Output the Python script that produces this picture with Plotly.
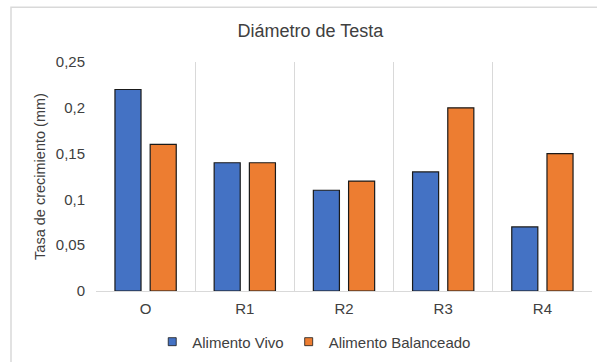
import plotly.graph_objects as go

categorias = ["O", "R1", "R2", "R3", "R4"]
alimento_vivo = [0.22, 0.14, 0.11, 0.13, 0.07]
alimento_balanceado = [0.16, 0.14, 0.12, 0.20, 0.15]
ticks_y = [0, 0.05, 0.1, 0.15, 0.2, 0.25]
etiquetas_y = ["0", "0,05", "0,1", "0,15", "0,2", "0,25"]

AZUL = "#4472C4"
NARANJA = "#ED7D31"
TEXTO = "#404040"
FUENTE = "Liberation Sans, Arial, sans-serif"

fig = go.Figure()
for nombre, valores, color in [("Alimento Vivo", alimento_vivo, AZUL),
                               ("Alimento Balanceado", alimento_balanceado, NARANJA)]:
    fig.add_trace(go.Bar(
        x=categorias, y=valores, name=nombre, showlegend=False,
        marker=dict(color=color, line=dict(color="#1a1a1a", width=1.2)),
    ))
    # legend entry drawn as a small square
    fig.add_trace(go.Scatter(
        x=[None], y=[None], mode="markers", name=nombre,
        marker=dict(symbol="square", size=8, color=color,
                    line=dict(color="#1a1a1a", width=0.8)),
    ))

fig.update_layout(
    width=597, height=362,
    margin=dict(l=96, r=5, t=62, b=70),
    paper_bgcolor="white", plot_bgcolor="white",
    font=dict(family=FUENTE, color=TEXTO, size=15),
    title=dict(text="Diámetro de Testa", x=0.52, xanchor="center",
               y=1 - 31 / 362, yanchor="middle",
               font=dict(size=18, color=TEXTO)),
    barmode="group", bargap=0.29, bargroupgap=0.26,
    legend=dict(orientation="h", x=0.44, xanchor="center",
                y=-0.217, yanchor="middle", itemwidth=30,
                font=dict(size=15, color=TEXTO), traceorder="normal"),
    xaxis=dict(
        type="category", range=[-0.5, 4.5], tickson="boundaries",
        showgrid=True, gridcolor="#d9d9d9", gridwidth=1,
        showline=True, linecolor="#d9d9d9", linewidth=1,
        ticks="", tickfont=dict(size=15, color=TEXTO), zeroline=False,
        ticklabelstandoff=4,
    ),
    yaxis=dict(
        range=[0, 0.25], tickvals=ticks_y, ticktext=etiquetas_y,
        showgrid=False, zeroline=False, showline=False, ticks="",
        tickfont=dict(size=15, color=TEXTO), ticklabelstandoff=10,
        title=dict(text="Tasa de crecimiento (mm)", standoff=6,
                   font=dict(size=14.5, color=TEXTO)),
    ),
    shapes=[dict(type="rect", xref="paper", yref="paper",
                 x0=-85 / 496, x1=1.2, y0=-0.6, y1=1 + 55 / 230,
                 line=dict(color="#d9d9d9", width=1.5), layer="below")],
)

fig.write_html("out.html")
